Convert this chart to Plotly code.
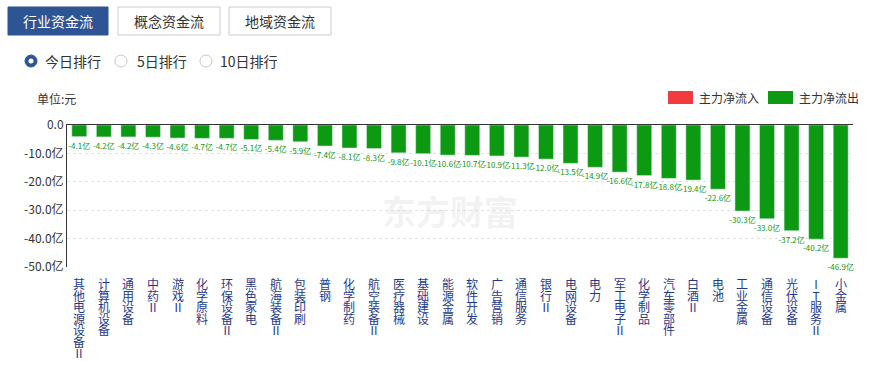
import plotly.graph_objects as go

categories = ["其他电源设备Ⅱ", "计算机设备", "通用设备", "中药Ⅱ", "游戏Ⅱ", "化学原料", "环保设备Ⅱ",
              "黑色家电", "航海装备Ⅱ", "包装印刷", "普钢", "化学制药", "航空装备Ⅱ", "医疗器械",
              "基础建设", "能源金属", "软件开发", "广告营销", "通信服务", "银行Ⅱ", "电网设备", "电力",
              "军工电子Ⅱ", "化学制品", "汽车零部件", "白酒Ⅱ", "电池", "工业金属", "通信设备",
              "光伏设备", "IT服务Ⅱ", "小金属"]
values = [-4.1, -4.2, -4.2, -4.3, -4.6, -4.7, -4.7, -5.1, -5.4, -5.9, -7.4, -8.1, -8.3, -9.8,
          -10.1, -10.6, -10.7, -10.9, -11.3, -12.0, -13.5, -14.9, -16.6, -17.8, -18.8, -19.4,
          -22.6, -30.3, -33.0, -37.2, -40.2, -46.9]
y_ticks = [0, -10, -20, -30, -40, -50]
y_ticktext = ["0.0", "-10.0亿", "-20.0亿", "-30.0亿", "-40.0亿", "-50.0亿"]
tabs = ["行业资金流", "概念资金流", "地域资金流"]
periods = ["今日排行", "5日排行", "10日排行"]
legend_names = ["主力净流入", "主力净流出"]

FONT = "Noto Sans CJK SC, Microsoft YaHei, sans-serif"
GREEN = "#0b9a11"
RED = "#f23b3f"
BLUE = "#2d5593"
LABEL_BLUE = "#1f3a8c"

W, H = 879, 366
L, R, T, B = 67, 26, 125, 99
PW, PH = W - L - R, H - T - B


def px(x):
    return (x - L) / PW


def py(y):
    return (H - B - y) / PH


fig = go.Figure()
fig.add_trace(go.Bar(
    x=categories, y=values,
    marker_color=GREEN,
    text=[f"{v:.1f}亿" for v in values],
    textposition="outside",
    constraintext="none",
    cliponaxis=False,
    textfont=dict(size=8, color=GREEN, family=FONT),
    hoverinfo="x+y",
))

annotations = []
shapes = []

# vertical category labels: one text per category, line step 1.3 * 8.85 = 11.5px
for cat in categories:
    txt = "<br>".join(f"<span style='font-size:12px'>{ch}</span>" for ch in cat)
    annotations.append(dict(
        x=cat, xref="x", y=0, yref="paper", yanchor="top", xanchor="center",
        yshift=-6, text=txt, showarrow=False, align="center",
        font=dict(size=8.85, color=LABEL_BLUE, family=FONT),
    ))

# tabs (buttons)
tab_boxes = [(8, 108), (118, 220), (229, 331)]
for i, (name, (x0, x1)) in enumerate(zip(tabs, tab_boxes)):
    active = i == 0
    shapes.append(dict(
        type="rect", xref="paper", yref="paper",
        x0=px(x0), x1=px(x1), y0=py(35), y1=py(7),
        fillcolor=BLUE if active else "white",
        line=dict(color=BLUE if active else "#c9ccd4", width=1),
        layer="above",
    ))
    annotations.append(dict(
        x=px((x0 + x1) / 2), y=py(21), xref="paper", yref="paper",
        text=name, showarrow=False, xanchor="center", yanchor="middle",
        font=dict(size=14, color="white" if active else "#333", family=FONT),
    ))

# radio buttons
radio_cx = [31, 121, 206]
radio_tx = [43, 135, 218]
for i, (name, cx, tx) in enumerate(zip(periods, radio_cx, radio_tx)):
    r = 6
    if i == 0:
        shapes.append(dict(type="circle", xref="paper", yref="paper",
                           x0=px(cx - r), x1=px(cx + r), y0=py(61 + r), y1=py(61 - r),
                           fillcolor=BLUE, line=dict(color=BLUE, width=1)))
        shapes.append(dict(type="circle", xref="paper", yref="paper",
                           x0=px(cx - 2.5), x1=px(cx + 2.5), y0=py(61 + 2.5), y1=py(61 - 2.5),
                           fillcolor="white", line=dict(color="white", width=0)))
    else:
        shapes.append(dict(type="circle", xref="paper", yref="paper",
                           x0=px(cx - r), x1=px(cx + r), y0=py(61 + r), y1=py(61 - r),
                           fillcolor="white", line=dict(color="#c8c8c8", width=1)))
    annotations.append(dict(
        x=px(tx), y=py(61), xref="paper", yref="paper", text=name, showarrow=False,
        xanchor="left", yanchor="middle", font=dict(size=14, color="#333", family=FONT),
    ))

# unit label
annotations.append(dict(x=px(35), y=py(98), xref="paper", yref="paper", text="单位:元",
                        showarrow=False, xanchor="left", yanchor="middle",
                        font=dict(size=12, color="#333", family=FONT)))

# legend
for name, color, x0 in zip(legend_names, [RED, GREEN], [668, 768]):
    shapes.append(dict(type="rect", xref="paper", yref="paper",
                       x0=px(x0), x1=px(x0 + 25), y0=py(104), y1=py(91),
                       fillcolor=color, line=dict(color=color, width=0)))
    annotations.append(dict(x=px(x0 + 29), y=py(97.5), xref="paper", yref="paper", text=name,
                            showarrow=False, xanchor="left", yanchor="middle",
                            font=dict(size=12, color="#333", family=FONT)))

# watermark
annotations.append(dict(x=px(450), y=py(210), xref="paper", yref="paper",
                        text="<b>东方财富</b>", showarrow=False, xanchor="center", yanchor="middle",
                        font=dict(size=34, color="rgba(200,200,200,0.22)", family=FONT)))

fig.update_layout(
    width=W, height=H,
    margin=dict(l=L, r=R, t=T, b=B),
    plot_bgcolor="white", paper_bgcolor="white",
    showlegend=False,
    bargap=0.39,
    font=dict(family=FONT, color="#333"),
    xaxis=dict(type="category", side="top", showticklabels=False, ticks="",
               showline=True, linecolor="#333", linewidth=1, showgrid=False, fixedrange=True),
    yaxis=dict(range=[-50, 0], tickvals=y_ticks, ticktext=y_ticktext, ticks="",
               showline=True, linecolor="#333", linewidth=1,
               showgrid=True, gridcolor="#e2e2e2", griddash="dot", zeroline=False,
               tickfont=dict(size=12, color="#333", family=FONT), fixedrange=True),
    annotations=annotations,
    shapes=shapes,
)

fig.write_html("out.html", config={"displayModeBar": False},
               post_script="document.body.style.margin='0';document.body.style.overflow='hidden';")
